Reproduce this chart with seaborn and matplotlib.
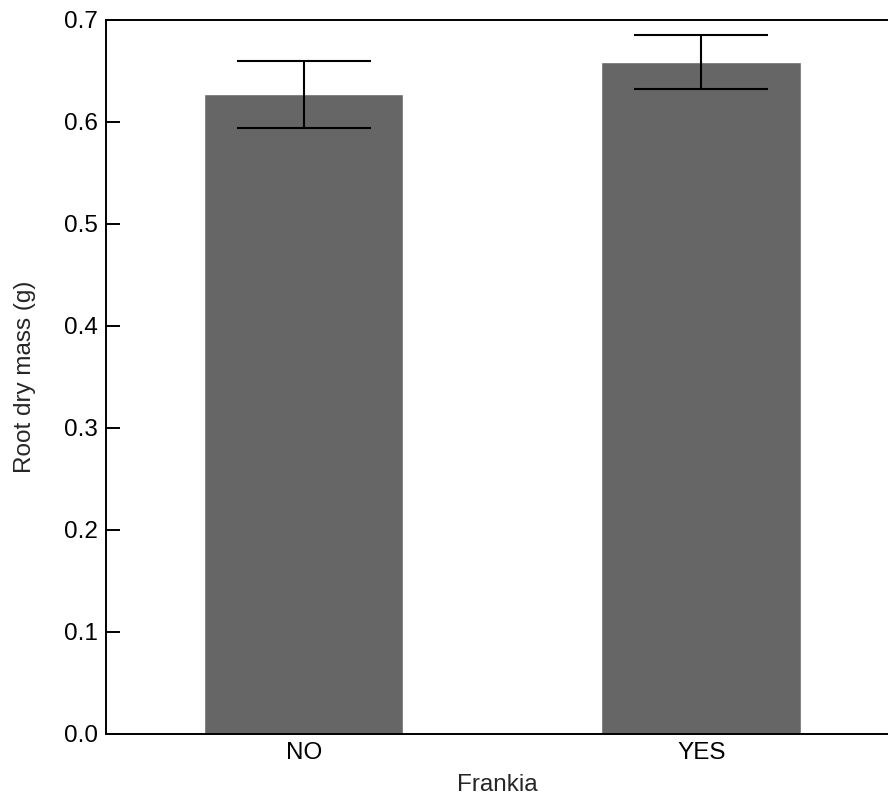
import matplotlib
matplotlib.use("Agg")
import matplotlib.pyplot as plt
import seaborn as sns
import pandas as pd

# Root dry mass by Frankia inoculation
frankia = ["NO", "YES"]
root_mass = [0.627, 0.659]
root_err = [0.033, 0.0265]

sns.set_style("white")
plt.rcParams["font.family"] = ["Liberation Sans", "DejaVu Sans"]

df = pd.DataFrame({"Frankia": frankia, "mass": root_mass})

fig = plt.figure(figsize=(8.88, 7.99), dpi=100)
ax = fig.add_axes([106 / 888, 1 - 734 / 799, 1 - 106 / 888, (734 - 20) / 799])

sns.barplot(data=df, x="Frankia", y="mass", color="#666666", saturation=1,
            width=0.502, errorbar=None, ax=ax)
ax.errorbar(range(len(frankia)), root_mass, yerr=root_err, fmt="none",
            ecolor="black", elinewidth=1.5, capsize=48, capthick=1.5)

ax.set_ylim(0, 0.7)
ax.set_xlim(-0.4975, 1.47)
ax.set_yticks([0.0, 0.1, 0.2, 0.3, 0.4, 0.5, 0.6, 0.7])
ax.set_yticklabels([f"{v:.1f}" for v in ax.get_yticks()])

for side in ["left", "top", "bottom"]:
    ax.spines[side].set_visible(True)
    ax.spines[side].set_color("black")
    ax.spines[side].set_linewidth(1.4)
ax.spines["right"].set_visible(False)

ax.tick_params(axis="y", direction="in", length=10, width=1.4, labelsize=17.5,
               pad=6, left=True, colors="black")
ax.tick_params(axis="x", length=0, labelsize=17.5, pad=6, colors="black")

ax.set_xlabel("Frankia", fontsize=17.5, labelpad=7)
ax.set_ylabel("Root dry mass (g)", fontsize=17.5, labelpad=20)

fig.savefig("out.png", dpi=100)
